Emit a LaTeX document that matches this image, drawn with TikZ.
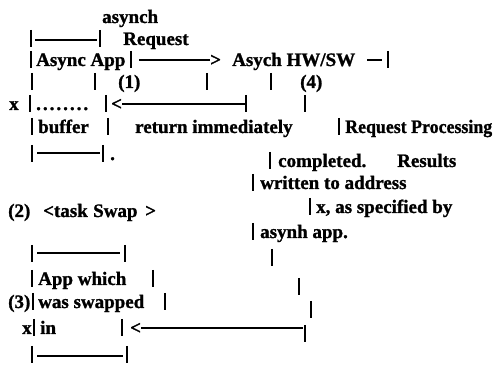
\documentclass[tikz,border=0pt]{standalone}
\usepackage{fontspec}
\setmainfont{Liberation Serif}
\newfontfamily\heavyfont{Liberation Serif Bold}[FakeBold=1.2]
\newcommand\myvbar[2]{\draw[vb] (#1,{#2-15}) -- (#1,{#2+2});}
\newcommand\myhbar[3]{\draw[hl] (#1,#3) -- (#2,#3);}
\begin{document}
\begin{tikzpicture}[x=1pt,y=-1pt,
  t/.style={anchor=base west,inner sep=0pt,font=\fontsize{19}{21}\selectfont\heavyfont},
  vb/.style={line width=1.8pt},
  hl/.style={line width=1.3pt}]
\useasboundingbox[fill=white] (0,0) rectangle (496,371);
% line 1
\node[t] (asynch) at (102,23) {asynch};
% line 2
\myvbar{31}{45}\myhbar{35}{97}{40}\myvbar{100}{45}
\node[t] (req) at (123,45) {Request};
% line 3
\myvbar{31}{66}
\node[t] (app) at (36,66) {Async App};
\myvbar{131}{66}
\node[t] (gt) at (210,66) {>};
\coordinate (a3) at (139,60);
\draw[hl] (a3) -- (a3 -| gt.west);
\node[t] (hw) at (232,66) {Asych HW/SW};
\myhbar{367}{382}{60}\myvbar{388}{66}
% line 4
\myvbar{32}{88}\myvbar{95}{88}\myvbar{207}{88}\myvbar{271}{88}
\node[t] (one) at (118,88) {(1)};
\node[t] (four) at (300,88) {(4)};
% line 5
\node[t] (x1) at (9,110) {x};
\myvbar{30}{110}
\node[t] (dots) at (36,110) {.\kern2pt.\kern2pt.\kern2pt.\kern2pt.\kern2pt.\kern2pt.\kern2pt.};
\myvbar{106}{110}
\node[t] (lt1) at (111,110) {<};
\coordinate (e5) at (245,104);
\draw[hl] (lt1.east |- e5) -- (e5);
\myvbar{246}{110}\myvbar{305}{110}
% line 6
\myvbar{32}{133}
\node[t] (buf) at (38,133) {buffer};
\myvbar{108}{133}
\node[t] (ret) at (135,133) {return immediately};
\myvbar{339}{133}
\node[t] (rp) at (345,133) {\scalebox{0.94}[1]{Request Processing}};
% line 7
\myvbar{32}{160}\myhbar{37}{100}{153}\myvbar{103}{160}
\node[t] (dot7) at (110,160) {.};
\myvbar{270}{167}
\node[t] (comp) at (278,167) {completed.};
\node[t] (res) at (397,167) {Results};
% line 8
\myvbar{253}{189}
\node[t] (wr) at (260,189) {written to address};
% line 9
\node[t] (two) at (8,217) {(2)};
\node[t] (task) at (43,217) {<task};
\node[t] (swap) at (93,217) {Swap};
\node[t] (gt2) at (145,217) {>};
\myvbar{310}{213}
\node[t] (xas) at (316,213) {x, as specified by};
% line 10
\myvbar{253}{238}
\node[t] (asy) at (260,238) {asynh app.};
% line 11
\myvbar{32}{260}\myhbar{37}{120}{253}\myvbar{125}{260}
\myvbar{272}{264}
% line 12
\myvbar{32}{285}
\node[t] (appw) at (38,285) {App which};
\myvbar{153}{285}\myvbar{299}{293}
% line 13
\node[t] (three) at (8,308) {(3)};
\myvbar{33}{308}
\node[t] (was) at (38,308) {was swapped};
\myvbar{165}{308}\myvbar{311}{316}
% line 14
\node[t] (x2) at (22,334) {x};
\myvbar{34}{334}
\node[t] (in) at (40,334) {in};
\myvbar{122}{334}
\node[t] (lt2) at (130,334) {<};
\coordinate (e14) at (303,328);
\draw[hl] (lt2.east |- e14) -- (e14);
\myvbar{305}{340}
% line 15
\myvbar{32}{361}\myhbar{37}{123}{356}\myvbar{127}{361}
\end{tikzpicture}
\end{document}
